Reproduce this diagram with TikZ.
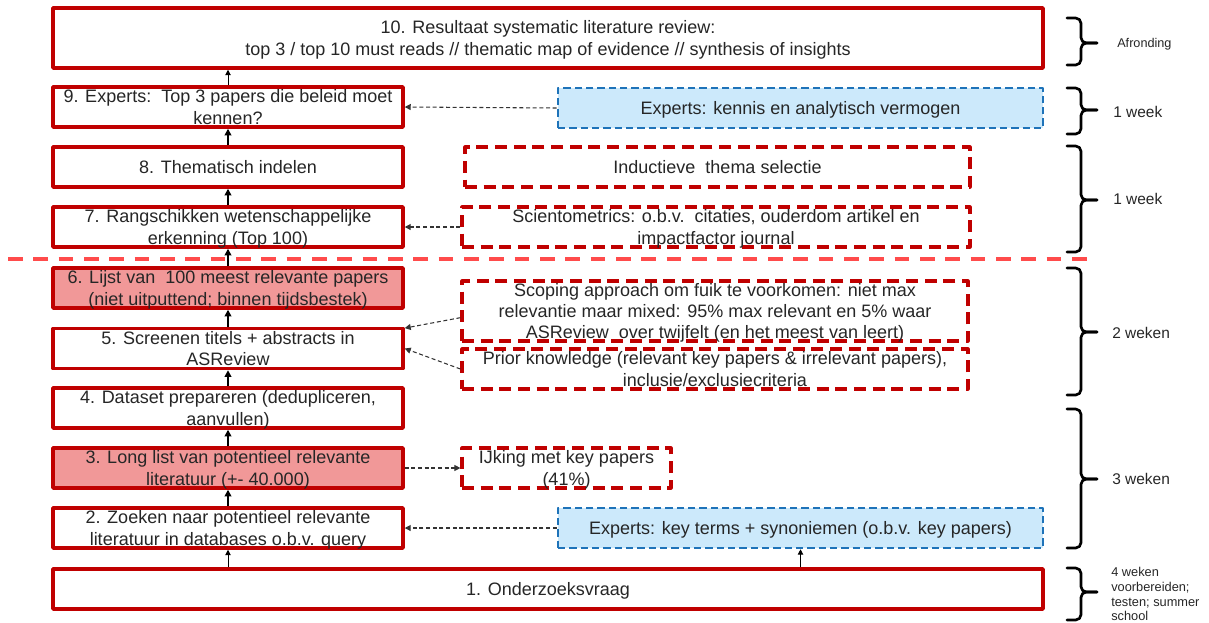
\documentclass[tikz,border=0pt]{standalone}
\usepackage{fontspec}
\setmainfont{Liberation Sans}
\usepackage{tikz}
\usepackage{xcolor}
\usetikzlibrary{arrows.meta, positioning, calc}

\definecolor{donkerrood}{RGB}{192,0,0}
\definecolor{rozerood}{RGB}{241,152,152}
\definecolor{lijnrood}{RGB}{255,75,75}
\definecolor{expertblauw}{RGB}{30,115,185}
\definecolor{lichtblauw}{RGB}{204,233,251}
\definecolor{tekst}{RGB}{38,38,38}

\tikzset{
  stap/.style={draw=donkerrood, line width=2.6pt, fill=white, inner sep=0pt,
    minimum width=262.5pt, minimum height=30pt, align=center, text=tekst,
    text depth=0pt, font=\fontsize{13.5}{16}\selectfont},
  stapvol/.style={stap, fill=rozerood},
  bron/.style={stap, fill=none, line width=2.4pt, dash pattern=on 9pt off 5pt},
  expert/.style={stap, draw=expertblauw, fill=lichtblauw, line width=1.9pt,
    dash pattern=on 5.5pt off 3pt, minimum width=363.75pt},
  pijl/.style={-{Triangle[length=5pt,width=5pt]}, line width=1.4pt, black},
  dunpijl/.style={-{Triangle[length=4pt,width=4pt]}, line width=0.7pt, black},
  stippijl/.style={-{Triangle[length=4.5pt,width=4.5pt]}, line width=0.8pt,
    black!80, dash pattern=on 3pt off 2pt},
  haak/.style={line width=2pt, rounded corners=4pt, line cap=round},
  duur/.style={anchor=west, inner sep=0pt, text=tekst, font=\fontsize{11.6}{13}\selectfont},
  duurklein/.style={duur, align=left, font=\fontsize{9.6}{11.2}\selectfont}
}

\begin{document}
\begin{tikzpicture}[x=0.75pt, y=-0.75pt, line join=round]
    \useasboundingbox (0,0) rectangle (1209,622);
    % Stappen van het proces
    \node[stap, minimum width=742.5pt, minimum height=45pt] (b10) at (548,38)
      {10. Resultaat systematic literature review:\\
       top 3 / top 10 must reads // thematic map of evidence // synthesis of insights};
    \node[stap] (b9) at (228,107) {9. Experts:\ \ Top 3 papers die beleid moet\\ kennen?};
    \node[stap] (b8) at (228,167) {8. Thematisch indelen};
    \node[stap] (b7) at (228,227) {7. Rangschikken wetenschappelijke\\ erkenning (Top 100)};
    \node[stapvol] (b6) at (228,288) {6. Lijst van\ \ 100 meest relevante papers\\ (niet uitputtend; binnen tijdsbestek)};
    \node[stap] (b5) at (228,348.5) {5. Screenen titels + abstracts in\\ ASReview};
    \node[stap] (b4) at (228,408) {4. Dataset prepareren (dedupliceren,\\ aanvullen)};
    \node[stapvol] (b3) at (228,468) {3. Long list van potentieel relevante\\ literatuur (+- 40.000)};
    \node[stap] (b2) at (228,528) {2. Zoeken naar potentieel relevante\\ literatuur in databases o.b.v. query};
    \node[stap, minimum width=742.5pt] (b1) at (548,589) {1. Onderzoeksvraag};
    % Bronnen en hulpmiddelen rechts
    \node[expert] (e9) at (800.5,108) {Experts: kennis en analytisch vermogen};
    \node[bron, minimum width=378.75pt] (ind) at (717.5,167) {Inductieve\ \ thema selectie};
    \node[bron, minimum width=381pt] (sci) at (716,227)
      {Scientometrics: o.b.v.\ \ citaties, ouderdom artikel en\\ impactfactor journal};
    \node[bron, minimum width=379.5pt, minimum height=45pt] (scop) at (715,311)
      {Scoping approach om fuik te voorkomen: niet max\\
       relevantie maar mixed: 95\% max relevant en 5\% waar\\
       ASReview\ \ over twijfelt (en het meest van leert)};
    \node[bron, minimum width=379.5pt] (prior) at (715,369)
      {Prior knowledge (relevant key papers \& irrelevant papers),\\ inclusie/exclusiecriteria};
    \node[bron, minimum width=156.75pt] (ijk) at (566.5,468) {IJking met key papers\\ (41\%)};
    \node[expert] (e2) at (800.5,528) {Experts: key terms + synoniemen (o.b.v. key papers)};
    % Scheiding tussen de fasen
    \draw[lijnrood, line width=2.6pt, dash pattern=on 11pt off 8pt] (8,259) -- (1097,259);
    % Pijlen langs de hoofdlijn
    \draw[dunpijl] (b2.south |- b1.north) -- (b2.south);
    \draw[pijl] (b2) -- (b3);
    \draw[pijl] (b3) -- (b4);
    \draw[pijl] (b4) -- (b5);
    \draw[pijl] (b5) -- (b6);
    \draw[pijl] (b6) -- (b7);
    \draw[pijl] (b7) -- (b8);
    \draw[pijl] (b8) -- (b9);
    \draw[dunpijl] (b9.north) -- (b9.north |- b10.south);
    \draw[dunpijl] (e2.south |- b1.north) -- (e2.south);
    % Gestippelde invloeden
    \draw[stippijl] (e9.west) -- (b9.east);
    \draw[stippijl] (sci.west) -- (b7.east);
    \draw[stippijl] ([yshift=-5pt]scop.west) -- ([yshift=-1pt]b5.north east);
    \draw[stippijl] (prior.west) -- (b5.east);
    \draw[stippijl] (b3.east) -- (ijk.west);
    \draw[stippijl] (e2.west) -- (b2.east);
    % Accolades met doorlooptijd
    \foreach \boven/\onder/\midden in {18/65/43, 88/134/110, 146/252/200, 268/395/332, 409/548/479, 568/620/592}{
      \draw[haak] (1067,\boven) -- (1081,\boven) -- (1081,\midden) -- (1097,\midden);
      \draw[haak] (1067,\onder) -- (1081,\onder) -- (1081,\midden) -- (1097,\midden);
    }
    \node[duur, font=\fontsize{9.5}{11}\selectfont] (tAfr) at (1117,44) {Afronding};
    \node[duur] (t9) at (1113,112) {1 week};
    \node[duur] (t78) at (1113,199) {1 week};
    \node[duur] (t56) at (1112,333) {2 weken};
    \node[duur] (t24) at (1112,479) {3 weken};
    \node[duurklein] (t1) at (1111,594) {4 weken\\ voorbereiden;\\ testen; summer\\ school};
\end{tikzpicture}
\end{document}
